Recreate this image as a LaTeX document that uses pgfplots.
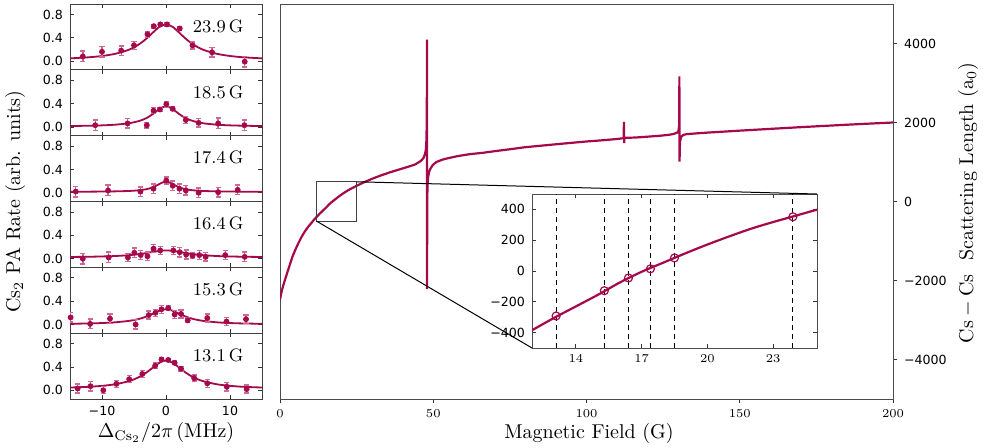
\documentclass[border=0pt]{standalone}
\usepackage{fontspec}
\usepackage{pgfplots}
\pgfplotsset{compat=1.18}
\usepackage{pgfplotstable}
\newfontfamily\tickfont{DejaVu Sans}
\definecolor{crim}{RGB}{165,8,75}

\pgfplotstableread{
B a
0 -2480
0.5 -2290
1 -2140
2 -1890
3 -1650
4 -1410
5 -1220
6 -1055
7 -900
8 -770
9 -660
10 -565
11 -470
12 -385
13 -305
14 -230
15 -155
16 -75
17 -5
18 55
19 115
20 172
21 225
22 275
23 318
24 358
25 398
27 473
30 574
33 663
36 742
39 813
42 885
44 935
45 980
46 1030
46.8 1100
47.3 1200
47.6 1320
47.8 1600
47.9 2300
47.95 4100
47.97 -2220
48.03 -400
48.1 350
48.3 600
48.6 740
49 820
49.8 920
51 1000
53 1060
55 1100
58 1150
62 1200
66 1231
70 1274
75 1323
80 1375
90 1449
100 1520
106 1555
110 1584
111.8 1600
112.15 1610
112.2 2015
112.3 1480
112.35 1600
112.8 1612
116 1620
120 1642
124 1665
127 1690
128.5 1712
129.5 1740
130 1780
130.25 1950
130.3 3170
130.35 1010
130.5 1520
130.9 1640
131.6 1685
132.6 1705
135 1720
140 1747
150 1794
160 1839
170 1883
180 1924
190 1964
200 2000
}\scat

\tikzset{annot/.style={anchor=east, font=\fontsize{9}{10}\selectfont}}
\pgfplotsset{
 tickf/.style={tick label style={font=\tickfont\fontsize{6.3}{7.5}\selectfont}},
 panel/.style={scale only axis, width=96pt, height=32.917pt, anchor=south west,
   xmin=-15, xmax=15, ymin=-0.15, ymax=0.98,
   xtick={-10,0,10}, xticklabels={}, ytick={0,0.4,0.8}, yticklabels={0.0,0.4,0.8},
   tick align=inside, major tick length=2pt, tick style={black!80, line width=0.4pt},
   axis line style={black!75, line width=0.5pt}, tickf},
 fitline/.style={crim, line width=0.9pt, smooth, no marks},
 datapts/.style={crim, only marks, mark=*, mark size=1.25pt, mark options={fill=crim, draw=crim},
   error bars/.cd, y dir=both, y explicit,
   error bar style={crim!60, line width=0.7pt},
   error mark options={rotate=90, mark size=1.3pt, crim!60, line width=0.7pt}}
}

\begin{document}
\begin{tikzpicture}
\path[use as bounding box] (0,0) rectangle (491.5pt,223.5pt);

% ---- 13.1 G (bottom)
\begin{axis}[panel, at={(35pt,24pt)}, xticklabels={−10,0,10}]
\addplot[fitline] coordinates {(-15,0.047)(-12,0.060)(-10,0.076)(-8,0.102)(-6,0.150)(-5,0.187)(-4,0.239)(-3,0.309)(-2,0.394)(-1,0.475)(0,0.510)(1,0.475)(2,0.394)(3,0.309)(4,0.239)(5,0.187)(6,0.150)(8,0.102)(10,0.076)(12,0.060)(15,0.047)};
\addplot[datapts] coordinates {(-13.8,0.03)+-(0,0.08) (-11.8,0.07)+-(0,0.08) (-9.8,0.0)+-(0,0.06) (-7.75,0.11)+-(0,0.06) (-5.75,0.19)+-(0,0.06) (-3.7,0.28)+-(0,0.06) (-1.7,0.42)+-(0,0.05) (-0.7,0.53)+-(0,0.03) (0.35,0.52)+-(0,0.03) (1.35,0.47)+-(0,0.03) (2.35,0.37)+-(0,0.04) (4.4,0.21)+-(0,0.05) (6.45,0.12)+-(0,0.07) (9.5,0.06)+-(0,0.07) (12.6,0.02)+-(0,0.07)};
\node[annot] at (axis cs:13.2,0.6) {13.1\,G};
\end{axis}

% ---- 15.3 G
\begin{axis}[panel, at={(35pt,56.917pt)}]
\addplot[fitline] coordinates {(-15,0.011)(-12,0.017)(-10,0.024)(-8,0.036)(-6,0.058)(-5,0.076)(-4,0.101)(-3,0.138)(-2,0.187)(-1,0.237)(0,0.260)(1,0.237)(2,0.187)(3,0.138)(4,0.101)(5,0.076)(6,0.058)(8,0.036)(10,0.024)(12,0.017)(15,0.011)};
\addplot[datapts] coordinates {(-14.9,0.12)+-(0,0.08) (-11.85,0.01)+-(0,0.08) (-8.75,0.10)+-(0,0.08) (-4.75,0.0)+-(0,0.08) (-2.7,0.16)+-(0,0.07) (-1.65,0.20)+-(0,0.06) (-0.7,0.26)+-(0,0.07) (0.35,0.28)+-(0,0.04) (1.35,0.17)+-(0,0.07) (2.35,0.18)+-(0,0.07) (3.4,0.07)+-(0,0.04) (6.45,0.11)+-(0,0.07) (9.45,0.05)+-(0,0.07) (12.5,0.09)+-(0,0.07)};
\node[annot] at (axis cs:13.2,0.6) {15.3\,G};
\end{axis}

% ---- 16.4 G
\begin{axis}[panel, at={(35pt,89.833pt)}]
\addplot[fitline] coordinates {(-15,0.028)(-12,0.032)(-10,0.037)(-8,0.044)(-6,0.057)(-5,0.067)(-4,0.080)(-3,0.097)(-2,0.116)(-1,0.133)(0,0.140)(1,0.133)(2,0.116)(3,0.097)(4,0.080)(5,0.067)(6,0.057)(8,0.044)(10,0.037)(12,0.032)(15,0.028)};
\addplot[datapts] coordinates {(-13,0.0)+-(0,0.09) (-8.95,0.02)+-(0,0.09) (-5.95,0.02)+-(0,0.07) (-4.95,0.10)+-(0,0.08) (-3.95,0.06)+-(0,0.08) (-2.9,0.04)+-(0,0.07) (-1.95,0.17)+-(0,0.07) (-0.9,0.14)+-(0,0.07) (1.15,0.14)+-(0,0.07) (2.15,0.11)+-(0,0.08) (3.15,0.07)+-(0,0.08) (4.15,0.05)+-(0,0.05) (5.2,0.06)+-(0,0.08) (6.2,0.03)+-(0,0.07) (9.25,0.06)+-(0,0.08) (12.3,0.03)+-(0,0.08)};
\node[annot] at (axis cs:13.2,0.6) {16.4\,G};
\end{axis}

% ---- 17.4 G
\begin{axis}[panel, at={(35pt,122.75pt)}]
\addplot[fitline] coordinates {(-15,0.018)(-12,0.019)(-10,0.021)(-8,0.024)(-6,0.030)(-5,0.036)(-4,0.045)(-3,0.063)(-2,0.095)(-1,0.152)(0,0.195)(1,0.152)(2,0.095)(3,0.063)(4,0.045)(5,0.036)(6,0.030)(8,0.024)(10,0.021)(12,0.019)(15,0.018)};
\addplot[datapts] coordinates {(-14.1,0.02)+-(0,0.09) (-9.05,0.04)+-(0,0.09) (-4,0.02)+-(0,0.08) (-1.95,0.07)+-(0,0.08) (0.05,0.21)+-(0,0.06) (1.05,0.12)+-(0,0.08) (2.1,0.07)+-(0,0.08) (3.1,0.04)+-(0,0.08) (5.1,0.0)+-(0,0.08) (8.15,0.01)+-(0,0.08) (11.2,0.05)+-(0,0.08)};
\node[annot] at (axis cs:13.2,0.6) {17.4\,G};
\end{axis}

% ---- 18.5 G
\begin{axis}[panel, at={(35pt,155.667pt)}]
\addplot[fitline] coordinates {(-15,0.015)(-12,0.021)(-10,0.027)(-8,0.038)(-6,0.060)(-5,0.080)(-4,0.109)(-3,0.155)(-2,0.225)(-1,0.310)(0,0.355)(1,0.310)(2,0.225)(3,0.155)(4,0.109)(5,0.080)(6,0.060)(8,0.038)(10,0.027)(12,0.021)(15,0.015)};
\addplot[datapts] coordinates {(-11.05,0.03)+-(0,0.09) (-6,0.06)+-(0,0.08) (-3,0.03)+-(0,0.05) (-1.95,0.28)+-(0,0.05) (-0.95,0.30)+-(0,0.03) (0.05,0.39)+-(0,0.05) (1.05,0.31)+-(0,0.03) (3.1,0.12)+-(0,0.06) (5.1,0.07)+-(0,0.07) (8.15,0.06)+-(0,0.09) (12.25,0.03)+-(0,0.09)};
\node[annot] at (axis cs:13.2,0.6) {18.5\,G};
\end{axis}

% ---- 23.9 G (top)
\begin{axis}[panel, at={(35pt,188.583pt)}]
\addplot[fitline] coordinates {(-15,0.047)(-12,0.066)(-10,0.088)(-8,0.124)(-6,0.187)(-5,0.237)(-4,0.304)(-3,0.392)(-2,0.495)(-1,0.590)(0,0.630)(1,0.590)(2,0.495)(3,0.392)(4,0.304)(5,0.237)(6,0.187)(8,0.124)(10,0.088)(12,0.066)(15,0.047)};
\addplot[datapts] coordinates {(-13,0.08)+-(0,0.09) (-10,0.16)+-(0,0.09) (-7,0.18)+-(0,0.08) (-5,0.27)+-(0,0.07) (-2.9,0.46)+-(0,0.05) (-1.9,0.60)+-(0,0.03) (-0.9,0.63)+-(0,0.03) (0.15,0.63)+-(0,0.03) (2.15,0.56)+-(0,0.03) (4.15,0.27)+-(0,0.06) (7.2,0.15)+-(0,0.08) (12.3,-0.01)+-(0,0.09)};
\node[annot] at (axis cs:13.2,0.6) {23.9\,G};
\end{axis}

% ---- main axis
\begin{axis}[at={(140pt,24pt)}, anchor=south west, scale only axis, width=306.5pt, height=197.5pt,
  xmin=0, xmax=200, ymin=-5000, ymax=5000,
  xtick={0,50,100,150,200}, ytick={-4000,-2000,0,2000,4000},
  yticklabels={−4000,−2000,0,2000,4000},
  xtick pos=left, ytick pos=right, yticklabel pos=right,
  tick align=outside, major tick length=2pt, tick style={black!80, line width=0.4pt},
  axis line style={black!70, line width=0.5pt}, tickf]
\addplot[crim, line width=1.1pt, no marks] table[x=B, y=a] {\scat};
\draw[black!75, line width=0.6pt] (axis cs:12,-500) rectangle (axis cs:25,500);
\coordinate (bTR) at (axis cs:25,500);
\coordinate (bBL) at (axis cs:12,-500);
\end{axis}

% ---- inset
\begin{axis}[name=inset, at={(266pt,49.5pt)}, anchor=south west, scale only axis, width=142.5pt, height=77pt,
  xmin=12, xmax=25, ymin=-500, ymax=500,
  xtick={14,17,20,23}, ytick={-400,-200,0,200,400},
  yticklabels={−400,−200,0,200,400},
  tick align=inside, major tick length=2pt, tick style={black!80, line width=0.4pt},
  axis line style={black!70, line width=0.5pt}, tickf,
  axis background/.style={fill=white}]
\addplot[black, line width=0.5pt, dash pattern=on 2.5pt off 2pt] coordinates {(13.1,-500)(13.1,500)};
\addplot[black, line width=0.5pt, dash pattern=on 2.5pt off 2pt] coordinates {(15.3,-500)(15.3,500)};
\addplot[black, line width=0.5pt, dash pattern=on 2.5pt off 2pt] coordinates {(16.4,-500)(16.4,500)};
\addplot[black, line width=0.5pt, dash pattern=on 2.5pt off 2pt] coordinates {(17.4,-500)(17.4,500)};
\addplot[black, line width=0.5pt, dash pattern=on 2.5pt off 2pt] coordinates {(18.5,-500)(18.5,500)};
\addplot[black, line width=0.5pt, dash pattern=on 2.5pt off 2pt] coordinates {(23.9,-500)(23.9,500)};
\addplot[crim, line width=1.1pt, no marks, smooth, restrict x to domain=10:30] table[x=B, y=a] {\scat};
\addplot[crim, only marks, mark=o, mark size=2pt, mark options={line width=0.6pt}] coordinates {(13.1,-292)(15.3,-128)(16.4,-45)(17.4,14)(18.5,85)(23.9,352)};
\end{axis}

\draw[black, line width=0.5pt] (bTR) -- (inset.north east);
\draw[black, line width=0.5pt] (bBL) -- (inset.south west);

% ---- labels
\node[rotate=90, font=\fontsize{10}{12}\selectfont] at (7.5pt,122.75pt) {Cs$_2$ PA Rate (arb. units)};
\node[font=\fontsize{10}{12}\selectfont] at (83pt,7.5pt) {$\Delta_{\mathrm{Cs}_2}/2\pi\,(\mathrm{MHz})$};
\node[font=\fontsize{10}{12}\selectfont] at (294.5pt,7pt) {Magnetic Field (G)};
\node[rotate=90, font=\fontsize{10}{12}\selectfont] at (484pt,122pt) {$\mathrm{Cs}-\mathrm{Cs}$\ \ Scattering Length (a$_0$)};
\end{tikzpicture}
\end{document}
